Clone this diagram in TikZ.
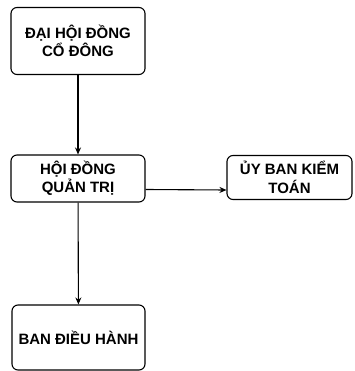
\documentclass[tikz,border=0pt]{standalone}
\usepackage{fontspec}
\setmainfont{Liberation Sans}
\usetikzlibrary{arrows.meta}
\begin{document}
\begin{tikzpicture}[x=1pt,y=-1pt,
    box/.style={draw,rounded corners=6pt,line width=1.1pt,align=center,
      font=\bfseries\fontsize{15}{18.5}\selectfont,inner sep=0pt},
    arr/.style={-{Stealth[length=7pt,width=6pt]},line width=1.1pt}]
        \useasboundingbox (0,0) rectangle (354,371);
        \draw (78,41) node[box,minimum width=134pt,minimum height=67pt](dhdcd){ĐẠI HỘI ĐỒNG\\CỔ ĐÔNG};
        \draw (78,178.5) node[box,minimum width=134pt,minimum height=47pt](hdqt){HỘI ĐỒNG\\QUẢN TRỊ};
        \draw (289.5,177.5) node[box,minimum width=125pt,minimum height=44pt](ubkt){ỦY BAN KIỂM\\TOÁN};
        \draw (78.5,337.5) node[box,minimum width=133pt,minimum height=65pt](bdh){BAN ĐIỀU HÀNH};
        \draw[arr] (dhdcd) -- (hdqt);
        \draw[arr] ([yshift=-11pt]hdqt.east) -- ([yshift=-12.5pt]ubkt.west);
        \draw[arr] (hdqt) -- (bdh);
      \end{tikzpicture}
\end{document}
